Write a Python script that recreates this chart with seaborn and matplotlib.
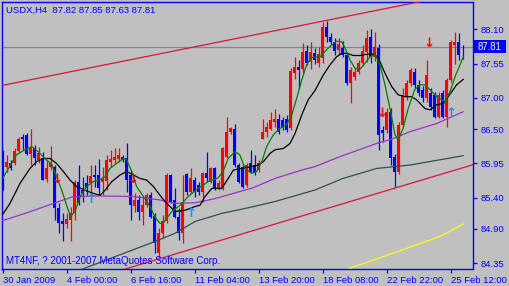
import matplotlib
matplotlib.use("Agg")
import matplotlib.pyplot as plt
from matplotlib.patches import Rectangle
import seaborn as sns
import numpy as np
import pandas as pd

# ---------------- data ----------------
opens = [86.10, 85.89, 85.96, 85.95, 86.15, 86.38, 86.41, 86.10, 86.19, 86.00,
         86.03, 85.70, 85.89, 85.89, 85.24, 85.02, 84.98, 85.04, 85.15, 85.66,
         85.53, 85.63, 85.63, 85.77, 85.77, 85.66, 85.67, 85.98, 86.00, 86.02,
         86.06, 86.03, 85.77, 85.27, 85.37, 85.18, 85.28, 85.44, 85.10, 84.52,
         84.84, 85.02, 85.77, 85.37, 85.10, 84.83, 85.78, 85.50, 85.69, 85.60,
         85.50, 85.79, 85.66, 85.88, 85.55, 85.55, 86.06, 86.46, 86.51, 85.93,
         85.90, 85.61, 85.95, 85.93, 85.85, 86.35, 86.46, 86.51, 86.62, 86.67,
         86.65, 86.67, 86.52, 87.40, 87.50, 87.47, 87.76, 87.58, 87.72, 87.56,
         87.64, 88.14, 87.98, 87.90, 87.77, 87.80, 87.69, 87.24, 87.34, 87.42,
         87.56, 87.74, 87.97, 87.66, 87.80, 86.48, 86.49, 86.78, 86.06, 85.82,
         86.57, 87.02, 87.24, 87.42, 87.21, 87.13, 87.00, 87.08, 87.05, 86.70,
         87.08, 86.70, 87.29, 87.85, 87.90, 87.82]
highs = [86.17, 86.09, 86.00, 86.19, 86.38, 86.43, 86.44, 86.51, 86.25, 86.22,
         86.14, 86.00, 86.23, 85.93, 85.31, 85.15, 85.15, 85.26, 85.69, 85.93,
         85.74, 85.77, 85.93, 85.93, 86.02, 85.90, 86.09, 86.17, 86.19, 86.19,
         86.09, 86.28, 85.85, 85.47, 85.44, 85.42, 85.47, 85.50, 85.15, 84.92,
         85.12, 85.79, 85.78, 85.55, 85.23, 85.77, 85.79, 85.87, 85.74, 85.66,
         85.82, 86.14, 85.90, 85.90, 85.69, 86.22, 86.70, 86.54, 86.59, 85.95,
         85.93, 85.95, 86.17, 86.09, 86.00, 86.67, 86.62, 86.78, 86.83, 86.75,
         86.70, 86.72, 87.48, 87.66, 87.61, 87.88, 87.85, 87.89, 87.80, 87.82,
         88.22, 88.23, 88.04, 87.96, 87.96, 87.92, 87.74, 87.50, 87.48, 87.61,
         87.85, 88.09, 88.10, 88.05, 87.86, 86.55, 86.84, 86.84, 86.10, 86.61,
         87.16, 87.29, 87.48, 87.48, 87.29, 87.19, 87.61, 87.16, 87.10, 87.10,
         87.13, 87.32, 87.93, 88.06, 88.04, 87.85]
lows = [85.53, 85.82, 85.85, 85.93, 86.14, 86.17, 86.08, 85.93, 85.93, 85.95,
        85.68, 85.66, 85.85, 85.04, 84.83, 84.70, 84.91, 84.70, 85.04, 85.28,
        85.34, 85.44, 85.47, 85.58, 85.44, 85.44, 85.53, 85.90, 85.95, 85.98,
        85.98, 85.50, 85.04, 85.18, 85.04, 84.96, 85.26, 85.07, 84.51, 84.44,
        84.75, 84.99, 85.31, 85.07, 84.72, 84.67, 85.44, 85.47, 85.42, 85.44,
        85.34, 85.66, 85.63, 85.53, 85.53, 85.53, 86.03, 86.43, 85.90, 85.63,
        85.55, 85.58, 85.79, 85.77, 85.82, 86.34, 86.38, 86.49, 86.54, 86.43,
        86.49, 86.46, 86.49, 87.31, 87.15, 87.40, 87.53, 87.47, 87.55, 87.50,
        87.56, 87.90, 87.85, 87.69, 87.70, 87.65, 87.21, 86.92, 87.29, 87.38,
        87.51, 87.58, 87.56, 87.60, 86.17, 86.30, 86.44, 85.93, 85.58, 85.78,
        86.53, 86.97, 87.19, 87.16, 87.03, 86.93, 86.94, 86.81, 86.68, 86.68,
        86.68, 86.54, 87.25, 87.55, 87.61, 87.63]
closes = [85.55, 85.98, 85.87, 86.15, 86.35, 86.34, 86.10, 86.19, 86.03, 86.11,
          85.69, 85.87, 85.95, 85.23, 84.99, 84.98, 85.06, 85.15, 85.66, 85.31,
          85.47, 85.55, 85.75, 85.73, 85.55, 85.70, 86.00, 86.02, 86.06, 86.09,
          86.00, 85.69, 85.28, 85.37, 85.18, 85.28, 85.44, 85.10, 84.67, 84.84,
          85.02, 85.77, 85.34, 85.10, 84.83, 85.34, 85.50, 85.71, 85.50, 85.50,
          85.79, 85.71, 85.87, 85.55, 85.63, 86.19, 86.46, 86.52, 85.93, 85.66,
          85.58, 85.93, 85.82, 85.79, 85.95, 86.46, 86.54, 86.65, 86.67, 86.46,
          86.54, 86.49, 87.43, 87.50, 87.44, 87.74, 87.56, 87.74, 87.61, 87.71,
          88.14, 87.98, 87.90, 87.75, 87.86, 87.69, 87.24, 87.45, 87.42, 87.56,
          87.76, 87.96, 87.65, 87.82, 86.40, 86.44, 86.78, 86.04, 85.82, 86.57,
          87.05, 87.24, 87.45, 87.21, 87.08, 87.00, 87.37, 86.86, 86.70, 87.05,
          86.70, 87.29, 87.90, 87.90, 87.69, 87.81]

# moving averages (bar position, price)
ma_fast_bar = [0, 1.75, 3.4, 5.5, 7.2, 8.8, 10.5, 12.2, 13.4, 14.7, 15.9, 16.9, 18, 19.3,
               20.9, 22.6, 24.25, 25.5, 26.75, 28.4, 30.1, 30.9, 32.2, 33.4, 35.1, 36.75,
               38, 39.25, 40, 42.2, 44.3, 46.3, 48.8, 51.3, 53.8, 55, 56.3, 58, 59.2,
               60.5, 62.2, 63.4, 64.7, 65.9, 67.6, 69.2, 70.9, 72.2, 73.4, 74.7, 75.9,
               77, 78, 79.25, 81.3, 83.4, 84.7, 85.5, 86.75, 88, 89.25, 90.5, 91.75,
               93, 94.25, 95.5, 96.75, 98, 98.8, 100, 101.3, 102.9, 104.25, 105.5,
               106.75, 108, 109.25, 110.5, 111.75, 113, 114.25, 115.1]
ma_fast_val = [85.72, 85.91, 86.09, 86.17, 86.22, 86.14, 86.03, 85.93, 85.74, 85.52, 85.28,
               85.10, 85.18, 85.42, 85.58, 85.66, 85.69, 85.74, 85.87, 85.95, 86.03, 86.01,
               85.82, 85.58, 85.42, 85.26, 85.09, 84.99, 84.99, 85.18, 85.28, 85.42, 85.55,
               85.66, 85.72, 85.82, 86.03, 86.14, 86.09, 85.87, 85.79, 85.82, 85.98, 86.22,
               86.41, 86.51, 86.57, 86.73, 86.99, 87.29, 87.53, 87.645, 87.66, 87.66, 87.80,
               87.91, 87.90, 87.80, 87.61, 87.475, 87.46, 87.555, 87.66, 87.70, 87.53,
               87.21, 86.83, 86.41, 86.33, 86.51, 86.83, 87.13, 87.21, 87.21, 87.13, 87.05,
               86.99, 86.94, 87.10, 87.34, 87.53, 87.66]

ma_mid_bar = [-0.75, 1.75, 4.25, 6.75, 8.4, 10.1, 11.75, 13.4, 15.1, 16.75, 18.4, 20.5,
              22.6, 24.25, 25.5, 27.2, 29.25, 30.9, 32.6, 34.25, 35.9, 37.6, 39.25, 40.5,
              43, 45.5, 48, 49.25, 50.5, 52.2, 54.7, 56.3, 57.6, 59.7, 62.2, 63.8, 65.1,
              66.75, 68, 70.1, 71.75, 73, 74.7, 76.3, 78, 80.1, 81.75, 83.4, 84.7, 85.9,
              87.6, 89.25, 90.9, 93, 94.25, 95.5, 97.2, 98.8, 100.5, 102.2, 103.4, 105.5,
              106.75, 108.4, 110.1, 111.3, 113.4, 115.1]
ma_mid_val = [85.07, 85.31, 85.63, 85.87, 85.98, 86.03, 86.03, 85.95, 85.82, 85.685, 85.58,
              85.52, 85.47, 85.44, 85.52, 85.66, 85.765, 85.82, 85.765, 85.71, 85.685,
              85.58, 85.44, 85.34, 85.18, 85.20, 85.26, 85.28, 85.42, 85.55, 85.55, 85.71,
              85.845, 85.87, 85.90, 85.925, 85.98, 86.11, 86.17, 86.19, 86.27, 86.43,
              86.73, 86.97, 87.12, 87.37, 87.53, 87.66, 87.715, 87.715, 87.68, 87.68,
              87.70, 87.70, 87.58, 87.395, 87.18, 87.05, 87.02, 87.02, 86.97, 86.83,
              86.81, 86.89, 86.91, 87.02, 87.21, 87.30]

ma_slow_bar = [-0.75, 6, 12.6, 17.6, 24, 32.6, 39.25, 43, 48, 52.6, 62.5, 68, 75, 78,
               84.25, 93.4, 97.6, 101.75, 108.4, 115.1]
ma_slow_val = [85.02, 85.16, 85.31, 85.42, 85.43, 85.42, 85.365, 85.31, 85.32, 85.38,
               85.56, 85.71, 85.85, 85.90, 86.06, 86.27, 86.35, 86.46, 86.59, 86.78]

ma_long_bar = [17.5, 38, 43, 48, 54.7, 61.3, 68, 78, 85, 93.4, 101.75, 115.1]
ma_long_val = [84.20, 84.70, 84.83, 85.02, 85.15, 85.24, 85.34, 85.525, 85.71, 85.87,
               85.925, 86.075]

ma_xlong_bar = [86.6, 92.6, 100.9, 109.25, 115.1]
ma_xlong_val = [84.27, 84.40, 84.59, 84.78, 84.98]

trend_up_bar = [-1, 118]
trend_up_val = [87.19, 88.72]
trend_dn_bar = [28, 118]
trend_dn_val = [84.21, 85.94]

arrow_dn_bar = [13.6, 32.6, 94.7, 106.6]
arrow_dn_val = [85.685, 85.685, 86.755, 87.865]
arrow_up_bar = [21.9, 47.0, 112.0]
arrow_up_val = [85.365, 85.155, 86.755]

ytick_vals = [88.10, 87.55, 87.00, 86.50, 85.95, 85.40, 84.90, 84.35]
xtick_bars = [0, 16, 32, 48, 64, 80, 96, 112]
xtick_labels = ["30 Jan 2009", "4 Feb 00:00", "6 Feb 16:00", "11 Feb 04:00",
                "13 Feb 20:00", "18 Feb 08:00", "22 Feb 22:00", "25 Feb 12:00"]
bid_price = 87.81
title_text = "USDX,H4  87.82 87.85 87.63 87.81"
footer_text = "MT4NF, ? 2001-2007 MetaQuotes Software Corp."

# ---------------- styling ----------------
sns.set_theme(style="white")
plt.rcParams['font.family'] = ['Liberation Sans', 'DejaVu Sans']

BG = '#C0C0C0'
AX = '#0000FF'
W, H = 510, 286

fig = plt.figure(figsize=(W / 100, H / 100), dpi=100)
fig.patch.set_facecolor(BG)
left_px, right_px, top_px, bot_px = 2.5, 472.7, 1.7, 269.0
ax = fig.add_axes([left_px / W, 1 - bot_px / H, (right_px - left_px) / W, (bot_px - top_px) / H])
ax.set_facecolor(BG)

df = pd.DataFrame({"open": opens, "high": highs, "low": lows, "close": closes})
df["bar"] = np.arange(len(df))
up = df["close"] >= df["open"]
df["color"] = np.where(up, '#FF0000', '#0000FF')
body_lo = df[["open", "close"]].min(axis=1)
body_h = (df["close"] - df["open"]).abs().clip(lower=0.012)

ax.vlines(df["bar"], df["low"], df["high"], colors=df["color"], linewidth=0.9, zorder=2)
ax.bar(df["bar"], body_h, bottom=body_lo, width=0.75, color=df["color"],
       linewidth=0, zorder=3)

# trend lines
sns.lineplot(x=trend_up_bar, y=trend_up_val, ax=ax, color='#DC143C', linewidth=0.9, zorder=4)
sns.lineplot(x=trend_dn_bar, y=trend_dn_val, ax=ax, color='#DC143C', linewidth=0.9, zorder=4)
# moving averages
sns.lineplot(x=ma_xlong_bar, y=ma_xlong_val, ax=ax, color='#FFFF00', linewidth=0.9, zorder=4, sort=False)
sns.lineplot(x=ma_long_bar, y=ma_long_val, ax=ax, color='#2F4F4F', linewidth=0.9, zorder=4, sort=False)
sns.lineplot(x=ma_slow_bar, y=ma_slow_val, ax=ax, color='#9932CC', linewidth=0.9, zorder=4, sort=False)
sns.lineplot(x=ma_mid_bar, y=ma_mid_val, ax=ax, color='#000000', linewidth=0.9, zorder=5, sort=False)
sns.lineplot(x=ma_fast_bar, y=ma_fast_val, ax=ax, color='#008000', linewidth=0.9, zorder=5, sort=False)

# bid line
ax.axhline(bid_price, color='#7A8899', linewidth=0.9, zorder=1)

# signal arrows
for b, v in zip(arrow_dn_bar, arrow_dn_val):
    ax.text(b, v, "↓", color='#FF0000', fontsize=9.5, fontweight='bold', ha='center', va='center',
            family='DejaVu Sans', zorder=6)
for b, v in zip(arrow_up_bar, arrow_up_val):
    ax.text(b, v, "↑", color='#1E90FF', fontsize=9.5, fontweight='bold', ha='center', va='center',
            family='DejaVu Sans', zorder=6)

# axes limits: pixel x = 3 + 4*bar ; price scale 62.4 px per unit, 88.10 at y=29.3
px_per = 62.4
ax.set_xlim((left_px - 3) / 4, (right_px - 3) / 4)
ax.set_ylim(88.10 - (bot_px - 29.3) / px_per, 88.10 + (29.3 - top_px) / px_per)

for s in ax.spines.values():
    s.set_color(AX)
    s.set_linewidth(1.0)
    s.set_visible(True)

ax.yaxis.tick_right()
ax.set_yticks(ytick_vals)
ax.set_yticklabels([f"{v:.2f}" for v in ytick_vals])
ax.set_xticks(xtick_bars)
ax.set_xticklabels(xtick_labels, ha='left')
ax.tick_params(axis='both', colors=AX, labelcolor=AX, labelsize=6.8, direction='out',
               length=3, width=0.9)
ax.tick_params(axis='y', pad=3, right=True, left=False)
ax.tick_params(axis='x', pad=2, bottom=True)
ax.set_xlabel("")
ax.set_ylabel("")
ax.grid(False)

# texts
fig.text(6.5 / W, 1 - 10.5 / H, title_text, color=AX, fontsize=6.8, va='center', ha='left')
fig.text(6 / W, 1 - 261 / H, footer_text, color=AX, fontsize=7.0, va='center', ha='left')

# current price box
fig.patches.append(Rectangle((474.5 / W, 1 - 53 / H), 31.5 / W, 12.5 / H,
                             transform=fig.transFigure, facecolor='#0000FF',
                             edgecolor='none', zorder=10))
fig.text(490 / W, 1 - 46.8 / H, f"{bid_price:.2f}", color='white', fontsize=6.9,
         ha='center', va='center', zorder=11)

fig.savefig("out.png", dpi=100, facecolor=BG)
